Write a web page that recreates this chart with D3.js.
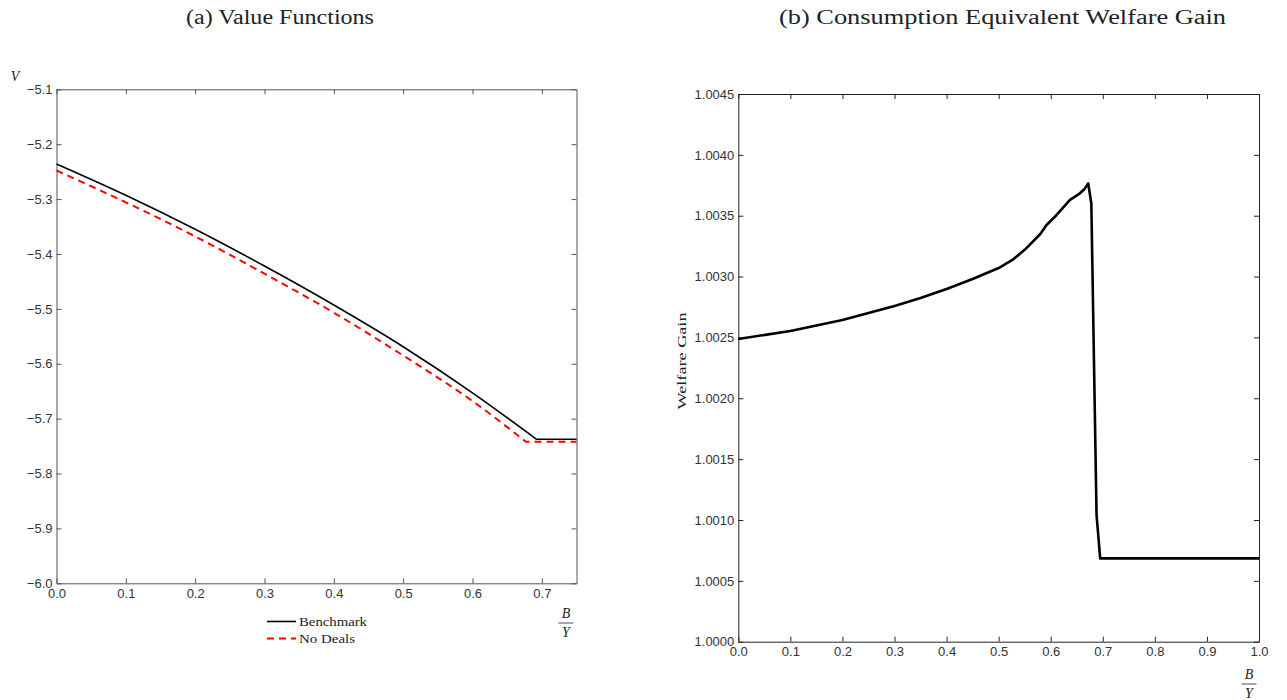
<!DOCTYPE html>
<html>
<head>
<meta charset="utf-8">
<script src="https://cdn.jsdelivr.net/npm/d3@7"></script>
<style>
  html, body { margin: 0; padding: 0; background: #fff; }
  svg { display: block; }
  .tick text { font-family: "Liberation Sans", Arial, sans-serif; font-size: 13px; fill: #333; }
  .serif { font-family: "Liberation Serif", "DejaVu Serif", serif; fill: #222; }
</style>
</head>
<body>
<svg id="chart" width="1287" height="700"></svg>
<script>
// ---- Panel (a): value functions over debt-to-output ratio ----
// the last point of each series lies on the flat stretch after the kink
const benchX = [0.0, 0.1, 0.2, 0.3, 0.4, 0.5, 0.6, 0.692, 0.75];
const benchV = [-5.236, -5.293, -5.355, -5.422, -5.493, -5.569, -5.653, -5.7375, -5.7375];
const noDealX = [0.0, 0.1, 0.2, 0.3, 0.4, 0.5, 0.6, 0.677, 0.75];
const noDealV = [-5.248, -5.306, -5.368, -5.436, -5.507, -5.585, -5.668, -5.742, -5.742];
const ticksA_x = [0, 0.1, 0.2, 0.3, 0.4, 0.5, 0.6, 0.7];
const ticksA_y = [-6.0, -5.9, -5.8, -5.7, -5.6, -5.5, -5.4, -5.3, -5.2, -5.1];

// ---- Panel (b): consumption equivalent welfare gain ----
const gainX = [0.0, 0.1, 0.2, 0.3, 0.35, 0.4, 0.45, 0.5, 0.528, 0.55, 0.58, 0.592, 0.61, 0.637, 0.656, 0.665, 0.672, 0.678, 0.688, 0.695, 1.0];
const gainY = [1.002487, 1.002553, 1.002643, 1.002758, 1.002824, 1.002898, 1.00298, 1.00307, 1.003142, 1.00322, 1.00335, 1.003424, 1.0035, 1.00363, 1.003684, 1.00372, 1.003766, 1.0036, 1.001041, 1.000685, 1.000685];
const ticksB_x = [0, 0.1, 0.2, 0.3, 0.4, 0.5, 0.6, 0.7, 0.8, 0.9, 1.0];
const ticksB_y = [1.0000, 1.0005, 1.0010, 1.0015, 1.0020, 1.0025, 1.0030, 1.0035, 1.0040, 1.0045];

const svg = d3.select("#chart");

function framedPanel(opts) {
  const { left, right, top, bottom, xDomain, yDomain, xTicks, yTicks, xFmt, yFmt, axisColor } = opts;
  const x = d3.scaleLinear().domain(xDomain).range([left, right]);
  const y = d3.scaleLinear().domain(yDomain).range([bottom, top]);
  const g = svg.append("g");
  const tickLen = 5;

  const styleAxis = sel => {
    sel.select(".domain").attr("stroke", axisColor).attr("stroke-width", 1);
    sel.selectAll(".tick line").attr("stroke", axisColor);
  };

  // bottom axis with labels, ticks pointing inward
  g.append("g").attr("transform", `translate(0,${bottom})`)
    .call(d3.axisBottom(x).tickValues(xTicks).tickFormat(xFmt).tickSizeInner(-tickLen).tickSizeOuter(0).tickPadding(5.5))
    .call(styleAxis);
  // top mirror
  g.append("g").attr("transform", `translate(0,${top})`)
    .call(d3.axisTop(x).tickValues(xTicks).tickFormat("").tickSizeInner(-tickLen).tickSizeOuter(0))
    .call(styleAxis);
  // left axis with labels
  g.append("g").attr("transform", `translate(${left},0)`)
    .call(d3.axisLeft(y).tickValues(yTicks).tickFormat(yFmt).tickSizeInner(-tickLen).tickSizeOuter(0).tickPadding(4))
    .call(styleAxis);
  // right mirror
  g.append("g").attr("transform", `translate(${right},0)`)
    .call(d3.axisRight(y).tickValues(yTicks).tickFormat("").tickSizeInner(-tickLen).tickSizeOuter(0))
    .call(styleAxis);

  g.selectAll(".tick text").attr("fill", "#333");
  return { x, y, g };
}

function fractionLabel(cx, cy) {
  const g = svg.append("g").attr("class", "serif").attr("font-style", "italic").attr("font-size", 14);
  g.append("text").attr("x", cx).attr("y", cy - 5).attr("text-anchor", "middle").text("B");
  g.append("line").attr("x1", cx - 7.5).attr("x2", cx + 7.5).attr("y1", cy).attr("y2", cy)
    .attr("stroke", "#222").attr("stroke-width", 0.8);
  g.append("text").attr("x", cx).attr("y", cy + 14).attr("text-anchor", "middle").text("Y");
}

function serifText(x, y, str, size, width) {
  const t = svg.append("text").attr("class", "serif").attr("x", x).attr("y", y)
    .attr("font-size", size).text(str);
  if (width) t.attr("textLength", width).attr("lengthAdjust", "spacingAndGlyphs");
  return t;
}

// Panel (a)
const A = framedPanel({
  left: 56.5, right: 576.5, top: 89.3, bottom: 583.3,
  xDomain: [0, 0.75], yDomain: [-6.0, -5.1],
  xTicks: ticksA_x, yTicks: ticksA_y,
  xFmt: d3.format(".1f"), yFmt: d3.format(".1f"), axisColor: "#555"
});

// smooth segment up to the kink, then a straight flat stretch
function valuePath(xs, ys) {
  const n = xs.length - 1;
  const curved = d3.line().x((d, i) => A.x(xs[i])).y((d, i) => A.y(ys[i])).curve(d3.curveMonotoneX)(xs.slice(0, n));
  return curved + `L${A.x(xs[n])},${A.y(ys[n])}`;
}

A.g.append("path").attr("d", valuePath(noDealX, noDealV))
  .attr("fill", "none").attr("stroke", "#ff0000").attr("stroke-width", 2).attr("stroke-dasharray", "7,5");
A.g.append("path").attr("d", valuePath(benchX, benchV))
  .attr("fill", "none").attr("stroke", "#000").attr("stroke-width", 1.6);

serifText(280, 24, "(a) Value Functions", 20, 188).attr("text-anchor", "middle");
svg.append("text").attr("class", "serif").attr("x", 15).attr("y", 81).attr("text-anchor", "middle")
  .attr("font-size", 14).attr("font-style", "italic").text("V");
fractionLabel(566, 623);

// legend
const legendItems = [
  { label: "Benchmark", color: "#000", dash: null, width: 1.6, len: 68 },
  { label: "No Deals", color: "#ff0000", dash: "7,5", width: 2, len: 56 }
];
legendItems.forEach((it, i) => {
  const yy = 621.5 + i * 17;
  svg.append("line").attr("x1", 267).attr("x2", 296).attr("y1", yy).attr("y2", yy)
    .attr("stroke", it.color).attr("stroke-width", it.width).attr("stroke-dasharray", it.dash);
  serifText(299, yy + 4.5, it.label, 13, it.len);
});

// Panel (b)
const B = framedPanel({
  left: 738.3, right: 1259, top: 94, bottom: 641.7,
  xDomain: [0, 1.0], yDomain: [1.0, 1.0045],
  xTicks: ticksB_x, yTicks: ticksB_y,
  xFmt: d3.format(".1f"), yFmt: d3.format(".4f"), axisColor: "#222"
});

const lineB = d3.line().x((d, i) => B.x(gainX[i])).y((d, i) => B.y(gainY[i]));
B.g.append("path").attr("d", lineB(gainX))
  .attr("fill", "none").attr("stroke", "#000").attr("stroke-width", 2.6).attr("stroke-linejoin", "round");

serifText(1002.5, 24, "(b) Consumption Equivalent Welfare Gain", 20, 447).attr("text-anchor", "middle");
svg.append("text").attr("class", "serif").attr("font-size", 13)
  .attr("transform", "translate(686,361) rotate(-90)").attr("text-anchor", "middle")
  .attr("textLength", 97).attr("lengthAdjust", "spacingAndGlyphs").text("Welfare Gain");
fractionLabel(1249, 684);
</script>
</body>
</html>
